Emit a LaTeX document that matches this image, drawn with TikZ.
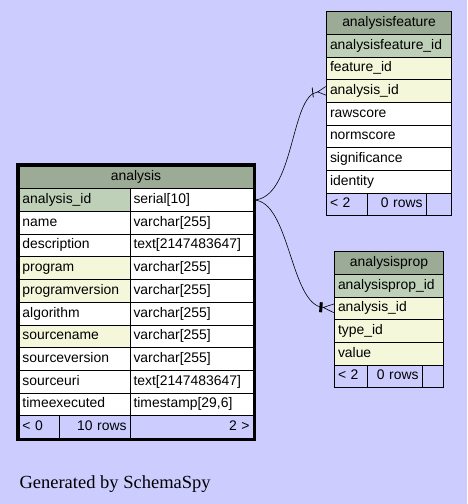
\documentclass[tikz,border=0pt]{standalone}
\usepackage{fontspec}
\setmainfont{Liberation Sans}
\newfontfamily\gensans{Liberation Serif}
\usetikzlibrary{arrows.meta}
\usetikzlibrary{backgrounds}

\definecolor{bgblue}{HTML}{CCCCFF}
\definecolor{headgreen}{HTML}{9BAB96}
\definecolor{pkgreen}{HTML}{BED1B8}
\definecolor{fkyellow}{HTML}{F4F7DA}

\tikzset{
  cell/.style={draw=black, line width=0.8pt, anchor=north west, outer sep=0pt,
    minimum height=22.7pt, inner xsep=3.5pt, inner ysep=0pt,
    text height=10pt, text depth=3pt, align=left, fill=white,
    font=\fontsize{13.9}{15}\selectfont},
  head/.style={cell, fill=headgreen, align=center},
  pk/.style={fill=pkgreen},
  fk/.style={fill=fkyellow},
  foot/.style={fill=bgblue},
  crowbar/.style={line width=0.6pt,
    -{Bar[width=10pt,line width=0.8pt,sep=4pt]Straight Barb[reversed,length=8.5pt,width=9pt,line width=0.6pt]}},
  crowbold/.style={line width=0.6pt,
    -{Bar[width=10pt,line width=3pt,sep=0pt]Straight Barb[reversed,length=11pt,width=9pt,line width=0.6pt]}}
}

\begin{document}
\begin{tikzpicture}[x=1pt,y=-1pt]
		\useasboundingbox (0,0) rectangle (467,504);
		\fill[bgblue] (0,0) rectangle (467,504);

		% analysis
		\begin{scope}[every node/.append style={cell}]
			\node[head,text width=227pt] (a0) at (19,166) {analysis};
			\node[pk,text width=104pt] (a1) at (a0.south west) {analysis\_id};
			\node[text width=104pt] (a2) at (a1.south west) {name};
			\node[text width=104pt] (a3) at (a2.south west) {description};
			\node[fk,text width=104pt] (a4) at (a3.south west) {program};
			\node[fk,text width=104pt] (a5) at (a4.south west) {programversion};
			\node[text width=104pt] (a6) at (a5.south west) {algorithm};
			\node[fk,text width=104pt] (a7) at (a6.south west) {sourcename};
			\node[text width=104pt] (a8) at (a7.south west) {sourceversion};
			\node[text width=104pt] (a9) at (a8.south west) {sourceuri};
			\node[text width=104pt] (a10) at (a9.south west) {timeexecuted};
			\node[text width=116pt] (a1t) at (a1.north east) {serial[10]};
			\node[text width=116pt] (a2t) at (a2.north east) {varchar[255]};
			\node[text width=116pt] (a3t) at (a3.north east) {text[2147483647]};
			\node[text width=116pt] (a4t) at (a4.north east) {varchar[255]};
			\node[text width=116pt] (a5t) at (a5.north east) {varchar[255]};
			\node[text width=116pt] (a6t) at (a6.north east) {varchar[255]};
			\node[text width=116pt] (a7t) at (a7.north east) {varchar[255]};
			\node[text width=116pt] (a8t) at (a8.north east) {varchar[255]};
			\node[text width=116pt] (a9t) at (a9.north east) {text[2147483647]};
			\node[text width=116pt] (a10t) at (a10.north east) {timestamp[29,6]};
			\node[foot,text width=33pt] (af1) at (a10.south west) {< 0};
			\node[foot,text width=64pt,align=right] (af2) at (af1.north east) {10 rows};
			\node[foot,text width=116pt,align=right] (af3) at (af2.north east) {2 >};
		\end{scope}
		\draw[line width=3pt] ([shift={(-1.5,-1.5)}]a0.north west) rectangle ([shift={(1.5,1.5)}]af3.south east);

		% analysisfeature
		\begin{scope}[every node/.append style={cell}]
			\node[head,text width=118pt] (f0) at (326.5,11.5) {analysisfeature};
			\node[pk,text width=118pt] (f1) at (f0.south west) {analysisfeature\_id};
			\node[fk,text width=118pt] (f2) at (f1.south west) {feature\_id};
			\node[fk,text width=118pt] (f3) at (f2.south west) {analysis\_id};
			\node[text width=118pt] (f4) at (f3.south west) {rawscore};
			\node[text width=118pt] (f5) at (f4.south west) {normscore};
			\node[text width=118pt] (f6) at (f5.south west) {significance};
			\node[text width=118pt] (f7) at (f6.south west) {identity};
			\node[foot,text width=33.5pt] (ff1) at (f7.south west) {< 2};
			\node[foot,text width=52pt,align=right] (ff2) at (ff1.north east) {0 rows};
			\node[foot,text width=18.5pt] (ff3) at (ff2.north east) {};
		\end{scope}

		% analysisprop
		\begin{scope}[every node/.append style={cell}]
			\node[head,text width=102pt] (p0) at (334.5,251.5) {analysisprop};
			\node[pk,text width=102pt] (p1) at (p0.south west) {analysisprop\_id};
			\node[fk,text width=102pt] (p2) at (p1.south west) {analysis\_id};
			\node[fk,text width=102pt] (p3) at (p2.south west) {type\_id};
			\node[fk,text width=102pt] (p4) at (p3.south west) {value};
			\node[foot,text width=25.5pt] (pf1) at (p4.south west) {< 2};
			\node[foot,text width=48pt,align=right] (pf2) at (pf1.north east) {0 rows};
			\node[foot,text width=14.5pt] (pf3) at (pf2.north east) {};
		\end{scope}

		% foreign keys
		\draw[crowbar] (a1t.east) .. controls (295,199.5) and (290,95) .. (f3.west);
		\draw[crowbold] (a1t.east) .. controls (290,199.5) and (290,305) .. (p2.west);

		\node[anchor=base west,font=\gensans\fontsize{18.5}{20}\selectfont] (gen) at (16,488) {Generated by SchemaSpy};
\end{tikzpicture}
\end{document}
